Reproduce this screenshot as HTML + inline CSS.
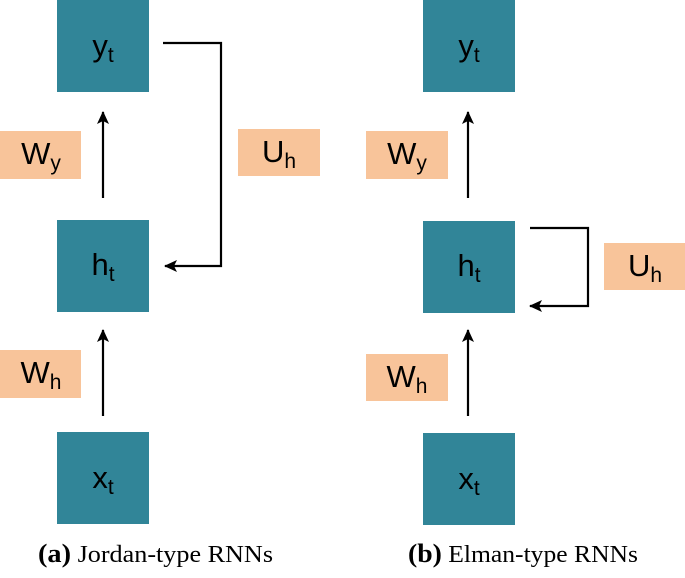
<!DOCTYPE html>
<html><head><style>
body{margin:0;width:685px;height:573px;background:#fff;overflow:hidden}
.s{font-family:"Liberation Sans",sans-serif}
.c{font-family:"Liberation Serif",serif}
</style></head><body>
<svg width="685" height="573" viewBox="0 0 685 573" xmlns="http://www.w3.org/2000/svg">
<defs><marker id="a" markerWidth="14" markerHeight="12" refX="12" refY="6" orient="auto" markerUnits="userSpaceOnUse"><path d="M0,0 L13,6 L0,12 L3,6 Z" fill="#000"/></marker></defs>
<g fill="#318598">
<rect x="57" y="0" width="92" height="92"/><rect x="57" y="220" width="92" height="92"/><rect x="57" y="432" width="92" height="92"/>
<rect x="423" y="0" width="92" height="92"/><rect x="423" y="221" width="92" height="92"/><rect x="423" y="433" width="92" height="92"/>
</g>
<g fill="#f8c49a">
<rect x="0" y="131" width="81" height="48"/><rect x="238" y="129" width="82" height="47"/><rect x="0" y="350" width="81" height="48"/>
<rect x="366" y="131" width="82" height="48"/><rect x="604" y="243" width="81" height="47"/><rect x="366" y="354" width="82" height="47"/>
</g>
<g stroke="#000" stroke-width="2.2" fill="none">
<line x1="103" y1="198" x2="103" y2="112" marker-end="url(#a)"/>
<line x1="103" y1="416" x2="103" y2="330" marker-end="url(#a)"/>
<polyline points="163,43 221,43 221,266 165,266" marker-end="url(#a)"/>
<line x1="468" y1="198" x2="468" y2="112" marker-end="url(#a)"/>
<line x1="468" y1="416" x2="468" y2="330" marker-end="url(#a)"/>
<polyline points="530,228 588,228 588,306 530,306" marker-end="url(#a)"/>
</g>
<g class="s" font-size="31" fill="#000" text-anchor="middle">
<text x="103" y="56">y<tspan font-size="21" dy="6">t</tspan></text>
<text x="103" y="275">h<tspan font-size="21" dy="6">t</tspan></text>
<text x="103" y="488">x<tspan font-size="21" dy="6">t</tspan></text>
<text x="469" y="56">y<tspan font-size="21" dy="6">t</tspan></text>
<text x="469" y="276">h<tspan font-size="21" dy="6">t</tspan></text>
<text x="469" y="489">x<tspan font-size="21" dy="6">t</tspan></text>
<text x="41" y="164">W<tspan font-size="21" dy="6">y</tspan></text>
<text x="279" y="162">U<tspan font-size="21" dy="6">h</tspan></text>
<text x="41" y="383">W<tspan font-size="21" dy="6">h</tspan></text>
<text x="407" y="164">W<tspan font-size="21" dy="6">y</tspan></text>
<text x="645" y="276">U<tspan font-size="21" dy="6">h</tspan></text>
<text x="407" y="387">W<tspan font-size="21" dy="6">h</tspan></text>
</g>
<g class="c" font-size="24" fill="#000">
<text x="38" y="562" textLength="235" lengthAdjust="spacingAndGlyphs"><tspan font-weight="bold" font-size="26">(a)</tspan> Jordan-type RNNs</text>
<text x="408" y="562" textLength="230" lengthAdjust="spacingAndGlyphs"><tspan font-weight="bold" font-size="26">(b)</tspan> Elman-type RNNs</text>
</g>
</svg>
</body></html>
